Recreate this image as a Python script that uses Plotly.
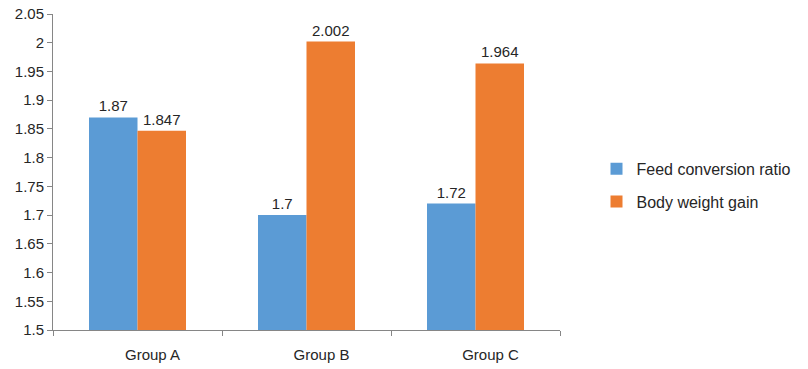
import plotly.graph_objects as go

categories = ["Group A", "Group B", "Group C"]
feed_conversion_ratio = [1.87, 1.70, 1.72]
body_weight_gain = [1.847, 2.002, 1.964]
fcr_labels = ["1.87", "1.7", "1.72"]
bwg_labels = ["1.847", "2.002", "1.964"]
series_names = ["Feed conversion ratio", "Body weight gain"]

FONT = "Liberation Sans, Arial, sans-serif"
TXT = "#262626"

fig = go.Figure()
fig.add_trace(go.Bar(
    x=categories, y=feed_conversion_ratio, name=series_names[0],
    marker=dict(color="#5B9BD5", line=dict(width=0)),
    text=fcr_labels, textposition="outside", cliponaxis=False,
    textfont=dict(family=FONT, size=15, color=TXT), legendgroup="a",
))
fig.add_trace(go.Bar(
    x=categories, y=body_weight_gain, name=series_names[1],
    marker=dict(color="#ED7D31", line=dict(width=0)),
    text=bwg_labels, textposition="outside", cliponaxis=False,
    textfont=dict(family=FONT, size=15, color=TXT), legendgroup="b",
))

fig.update_layout(
    width=808, height=369,
    margin=dict(l=53, r=241, t=14, b=39),
    paper_bgcolor="white", plot_bgcolor="white",
    barmode="group", bargap=0.426, bargroupgap=0,
    font=dict(family=FONT, size=14, color=TXT),
    legend=dict(
        x=1.072, y=0.458, xanchor="left", yanchor="middle",
        traceorder="grouped", tracegroupgap=9, itemwidth=30,
        font=dict(family=FONT, size=16, color=TXT),
        bgcolor="rgba(0,0,0,0)",
    ),
    showlegend=True,
)
fig.update_xaxes(
    showline=True, linecolor="#868686", linewidth=1,
    ticks="outside", tickson="boundaries", ticklen=5, tickcolor="#868686",
    showgrid=False, zeroline=False, automargin=False,
    tickfont=dict(family=FONT, size=15, color=TXT),
    ticklabelshift=15, ticklabelstandoff=11,
)
fig.update_yaxes(
    range=[1.5, 2.05], dtick=0.05, tick0=1.5,
    showline=True, linecolor="#868686", linewidth=1,
    ticks="outside", ticklen=5, tickcolor="#868686",
    showgrid=False, zeroline=False, automargin=False,
    tickfont=dict(family=FONT, size=15, color=TXT),
)

fig.write_html(
    "out.html",
    config={"displayModeBar": False},
    post_script="document.body.style.margin='0';document.body.style.overflow='hidden';",
)
